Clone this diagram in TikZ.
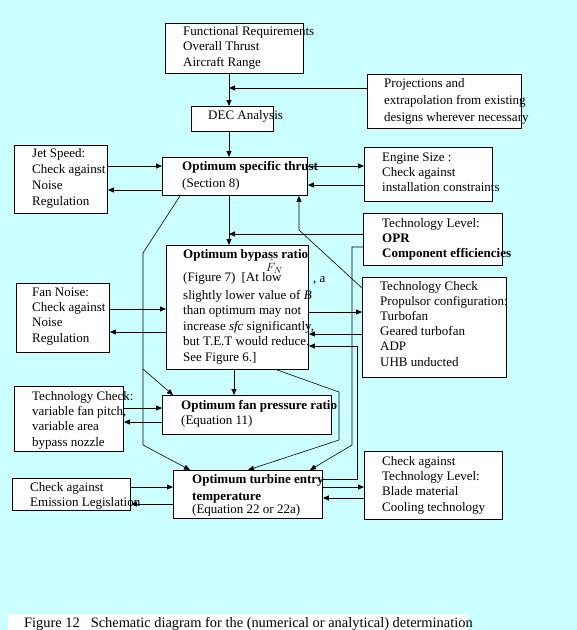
\documentclass[tikz,border=0pt]{standalone}
\usepackage{fontspec}
\setmainfont{Liberation Serif}
\usetikzlibrary{arrows.meta}
\definecolor{bgcyan}{RGB}{204,255,255}
\tikzset{
  box/.style={draw, fill=white, line width=0.9pt, inner sep=0pt, anchor=north west},
  txt/.style={anchor=base west, inner sep=0pt, align=left, font=\fontsize{13}{15.4}\selectfont},
  arr/.style={-{Triangle[length=6pt,width=5pt]}, line width=0.9pt},
  darr/.style={arr, line width=0.6pt},
  diag/.style={line width=0.6pt}
}
\begin{document}
\begin{tikzpicture}[x=1pt,y=-1pt]
  \useasboundingbox (0,0) rectangle (577,630);
  \fill[bgcyan] (0,0) rectangle (577,630);
  \fill[white] (8,614) rectangle (468,632);

  \node[box, minimum width=138pt, minimum height=50pt] (fr) at (165,23) {};
  \node[box, minimum width=154pt, minimum height=54pt] (proj) at (367,74) {};
  \node[box, minimum width=82pt, minimum height=25pt] (dec) at (191,106) {};
  \node[box, minimum width=145pt, minimum height=38pt] (ost) at (162,157) {};
  \node[box, minimum width=93pt, minimum height=68pt] (jet) at (14,145) {};
  \node[box, minimum width=128pt, minimum height=54pt] (eng) at (364,147) {};
  \node[box, minimum width=139pt, minimum height=52pt] (tlev) at (363,213) {};
  \node[box, minimum width=142pt, minimum height=124pt] (bpr) at (166,245) {};
  \node[box, minimum width=144pt, minimum height=100pt] (tc) at (362,277) {};
  \node[box, minimum width=93pt, minimum height=69pt] (fn) at (16,283) {};
  \node[box, minimum width=109pt, minimum height=65pt] (tfp) at (14,386) {};
  \node[box, minimum width=169pt, minimum height=39pt] (fpr) at (162,395) {};
  \node[box, minimum width=149pt, minimum height=48pt] (tet) at (173,470) {};
  \node[box, minimum width=118pt, minimum height=32pt] (em) at (12,478) {};
  \node[box, minimum width=138pt, minimum height=68pt] (ctl) at (364,451) {};

  \node[txt, font=\fontsize{13}{15.5}\selectfont] (fr-t) at (183,66)
    {Functional Requirements\\Overall Thrust\\Aircraft Range};
  \node[txt, font=\fontsize{13}{17}\selectfont] (proj-t) at (384,121)
    {Projections and\\extrapolation from existing\\designs wherever necessary};
  \node[txt] (dec-t) at (208,119) {DEC Analysis};
  \node[txt, font=\fontsize{13}{17}\selectfont] (ost-t) at (182,187)
    {\textbf{Optimum specific thrust}\\(Section 8)};
  \node[txt, font=\fontsize{13}{15.7}\selectfont] (jet-t) at (32,205)
    {Jet Speed:\\Check against\\Noise\\Regulation};
  \node[txt, font=\fontsize{13}{15}\selectfont] (eng-t) at (382,191)
    {Engine Size :\\Check against\\installation constraints};
  \node[txt, font=\fontsize{13}{15}\selectfont] (tlev-t) at (382,257)
    {Technology Level:\\\textbf{OPR}\\\textbf{Component efficiencies}};
  \node[txt] (bpr-t1) at (183,258) {\textbf{Optimum bypass ratio}};
  \node[txt] (bpr-t2) at (183,281) {(Figure 7)\hspace{6pt}[At low};
  \node[txt] (bpr-t3) at (313,282) {, a};
  \node[txt, font=\fontsize{13}{13}\selectfont] (bpr-fn) at (266,271) {$\hat{F}_N$};
  \node[txt, font=\fontsize{13}{15.5}\selectfont] (bpr-t4) at (183,361)
    {slightly lower value of \textit{B}\\than optimum may not\\increase \textit{sfc} significantly,\\but T.E.T would reduce.\\See Figure 6.]};
  \node[txt, font=\fontsize{13}{15.2}\selectfont] (tc-t) at (380,366)
    {Technology Check\\Propulsor configuration:\\Turbofan\\Geared turbofan\\ADP\\UHB unducted};
  \node[txt, font=\fontsize{13}{15.3}\selectfont] (fn-t) at (32,342)
    {Fan Noise:\\Check against\\Noise\\Regulation};
  \node[txt, font=\fontsize{13}{15.3}\selectfont] (tfp-t) at (32,446)
    {Technology Check:\\variable fan pitch,\\variable area\\bypass nozzle};
  \node[txt, font=\fontsize{13}{15}\selectfont] (fpr-t) at (181,424)
    {\textbf{Optimum fan pressure ratio}\\(Equation 11)};
  \node[txt, font=\fontsize{13}{17}\selectfont] (tet-t1) at (192,500)
    {\textbf{Optimum turbine entry}\\\textbf{temperature}};
  \node[txt] (tet-t2) at (192,513) {(Equation 22 or 22a)};
  \node[txt, font=\fontsize{13}{15}\selectfont] (em-t) at (30,506)
    {Check against\\Emission Legislation};
  \node[txt, font=\fontsize{13}{15.3}\selectfont] (ctl-t) at (382,511)
    {Check against\\Technology Level:\\Blade material\\Cooling technology};
  \node[txt, font=\fontsize{14.4}{15}\selectfont] (cap) at (24,627.5)
    {Figure 12\hspace{11pt}Schematic diagram for the (numerical or analytical) determination};

  \coordinate (c1) at (229,0);
  \coordinate (br) at (143,369);

  \draw[arr] (fr.south -| c1) -- (dec.north -| c1);
  \draw[arr] (proj.west |- 0,88) -- (c1 |- 0,88);
  \draw[arr] (dec.south -| c1) -- (ost.north -| c1);
  \draw[arr] (jet.east |- 0,166) -- (ost.west |- 0,166);
  \draw[arr] (ost.west |- 0,190) -- (jet.east |- 0,190);
  \draw[arr] (ost.east |- 0,166) -- (eng.west |- 0,166);
  \draw[arr] (eng.west |- 0,185) -- (ost.east |- 0,185);
  \draw[arr] (ost.south -| c1) -- (bpr.north -| c1);
  \draw[arr] (tlev.west |- 0,234) -- (c1 |- 0,234);
  \draw[darr] (tlev.west |- 0,247) -- (352,247) -- (352,445) -- (tet.north -| 310,0);
  \draw[arr] (fn.east |- 0,309) -- (bpr.west |- 0,309);
  \draw[arr] (bpr.west |- 0,332) -- (fn.east |- 0,332);
  \draw[arr] (bpr.east |- 0,312) -- (tc.west |- 0,312);
  \draw[arr] (tc.west |- 0,334) -- (bpr.east |- 0,334);
  \draw[arr] (tet.east |- 0,479) -- (357,479) -- (357,346) -- (bpr.east |- 0,346);
  \draw[darr] (tc.west |- 0,288) -- (299,230) -- (ost.south -| 299,0);
  \draw[arr] (bpr.south -| 234,0) -- (fpr.north -| 234,0);
  \draw[darr] (bpr.south -| 277,0) -- (339,392) -- (339,440) -- (tet.north -| 248,0);
  \draw[darr] (ost.south -| 180,0) -- (143,253) -- (143,445) -- (tet.north -| 190,0);
  \draw[darr] (br) -- (fpr.north -| 173,0);
  \draw[arr] (tfp.east |- 0,408) -- (fpr.west |- 0,408);
  \draw[arr] (fpr.west |- 0,422) -- (tfp.east |- 0,422);
  \draw[arr] (em.east |- 0,487) -- (tet.west |- 0,487);
  \draw[arr] (tet.west |- 0,504) -- (em.east |- 0,504);
  \draw[arr] (tet.east |- 0,487) -- (ctl.west |- 0,487);
  \draw[arr] (ctl.west |- 0,498) -- (tet.east |- 0,498);
\end{tikzpicture}
\end{document}
